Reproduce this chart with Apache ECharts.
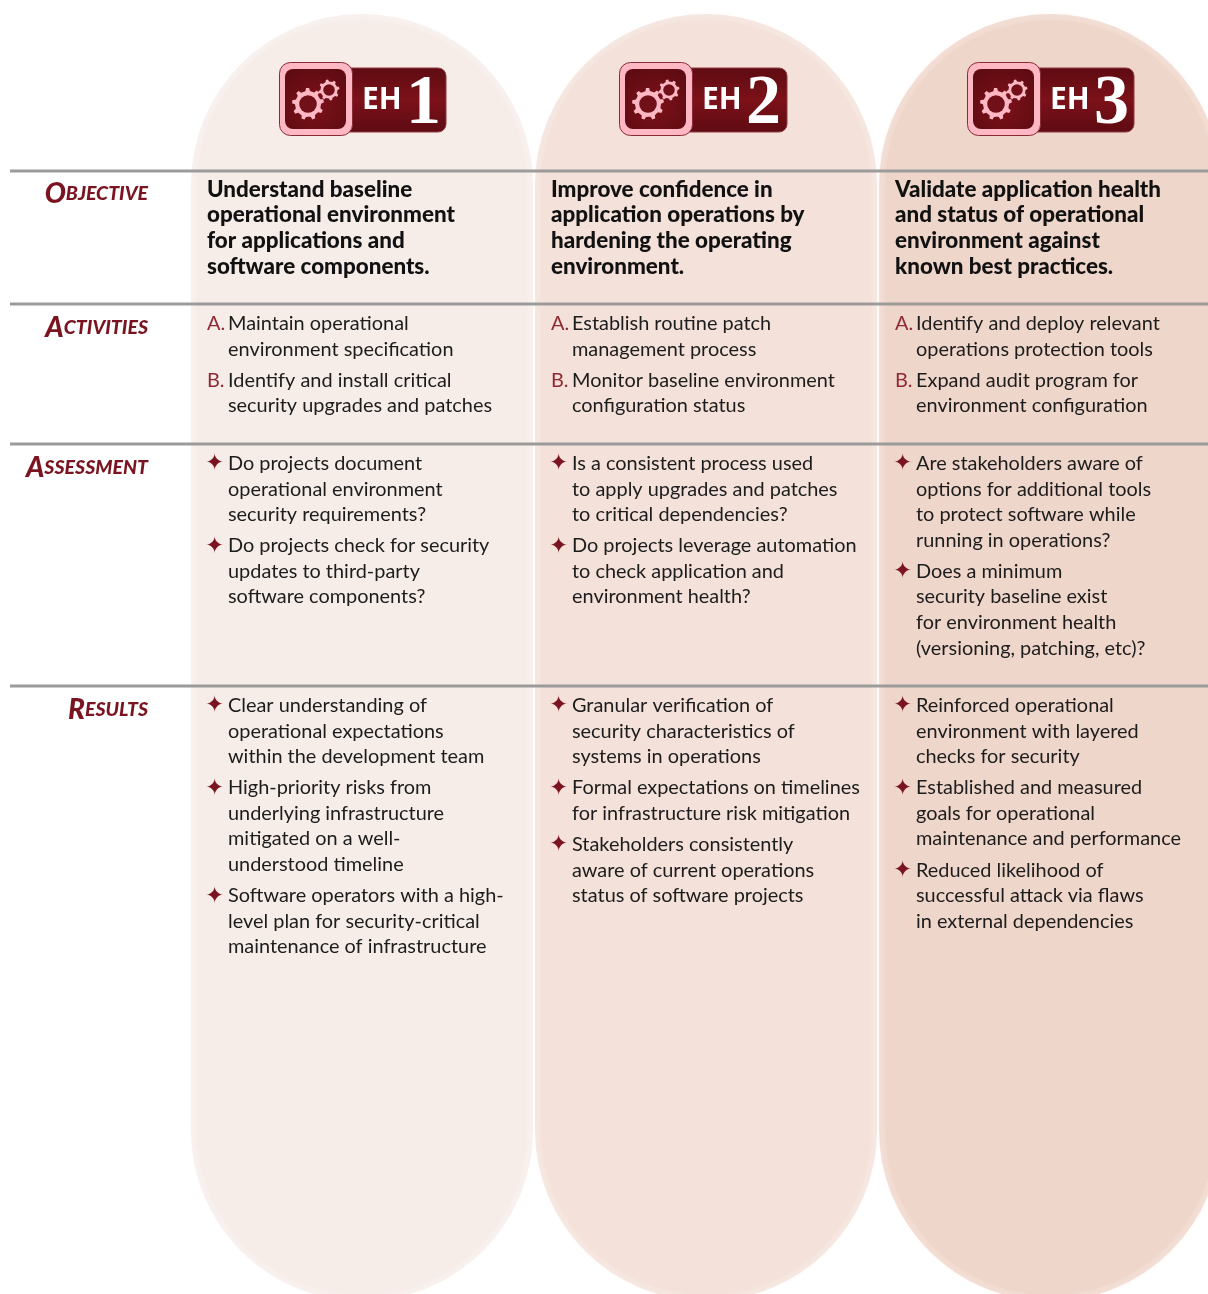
<!DOCTYPE html>
<html>
<head>
<meta charset="utf-8">
<title>Environment Hardening</title>
<style>
html, body { margin: 0; padding: 0; background: #fff; }
#main { width: 1208px; height: 1294px; }
</style>
<script src="https://cdn.jsdelivr.net/npm/echarts@6/dist/echarts.min.js"></script>
</head>
<body>
<div id="main"></div>
<script>
var badges = ['1', '2', '3'];
var rowNames = [['O', 'BJECTIVE'], ['A', 'CTIVITIES'], ['A', 'SSESSMENT'], ['R', 'ESULTS']];

var objectives = [
  ['Understand baseline', 'operational environment', 'for applications and', 'software components.'],
  ['Improve confidence in', 'application operations by', 'hardening the operating', 'environment.'],
  ['Validate application health', 'and status of operational', 'environment against', 'known best practices.']
];
var activities = [
  [['Maintain operational', 'environment specification'], ['Identify and install critical', 'security upgrades and patches']],
  [['Establish routine patch', 'management process'], ['Monitor baseline environment', 'configuration status']],
  [['Identify and deploy relevant', 'operations protection tools'], ['Expand audit program for', 'environment configuration']]
];
var assessment = [
  [['Do projects document', 'operational environment', 'security requirements?'], ['Do projects check for security', 'updates to third-party', 'software components?']],
  [['Is a consistent process used', 'to apply upgrades and patches', 'to critical dependencies?'], ['Do projects leverage automation', 'to check application and', 'environment health?']],
  [['Are stakeholders aware of', 'options for additional tools', 'to protect software while', 'running in operations?'], ['Does a minimum', 'security baseline exist', 'for environment health', '(versioning, patching, etc)?']]
];
var results = [
  [['Clear understanding of', 'operational expectations', 'within the development team'], ['High-priority risks from', 'underlying infrastructure', 'mitigated on a well-', 'understood timeline'], ['Software operators with a high-', 'level plan for security-critical', 'maintenance of infrastructure']],
  [['Granular verification of', 'security characteristics of', 'systems in operations'], ['Formal expectations on timelines', 'for infrastructure risk mitigation'], ['Stakeholders consistently', 'aware of current operations', 'status of software projects']],
  [['Reinforced operational', 'environment with layered', 'checks for security'], ['Established and measured', 'goals for operational', 'maintenance and performance'], ['Reduced likelihood of', 'successful attack via flaws', 'in external dependencies']]
];

var dark = '#7a1420';
var ink = '#1c1c1c';
var font = 'Lato';
var pillX = [191, 535, 879];
var pillFill = ['#f6ede9', '#f3e1da', '#efd6cb'];
var pillEdge = ['#f8f1ee', '#f6e8e2', '#f3dfd6'];
var textX = [207, 551, 895];
var badgeX = [279, 619, 967];
var barEnd = [446, 787, 1134];
var ruleY = [171, 304, 444, 686];
var rowTop = [189.5, 323.5, 463.5, 705.5];
var lineH = 25.6;
var itemGap = 5.5;

// gear outline as polygon points
function gearPoints(cx, cy, r, teeth) {
  var pts = [];
  var step = Math.PI * 2 / teeth;
  for (var i = 0; i < teeth; i++) {
    var a = i * step - 0.2;
    [[r * 0.8, a - step * 0.5], [r * 0.82, a - step * 0.25], [r, a - step * 0.14], [r, a + step * 0.14], [r * 0.82, a + step * 0.25]].forEach(function (p) {
      pts.push([cx + p[0] * Math.cos(p[1]), cy + p[0] * Math.sin(p[1])]);
    });
  }
  return pts;
}

function label(x, y, str, fill, weight, size) {
  return {
    type: 'text', z: 10, silent: true, x: x, y: y,
    style: { text: str, fill: fill || ink, font: (weight || 'normal') + ' ' + (size || 19.9) + 'px ' + font, verticalAlign: 'middle' }
  };
}

var els = [];

// pills: pale outer shape plus a blurred inner one for the soft edge
pillX.forEach(function (x, i) {
  els.push({
    type: 'rect', z: 1, silent: true,
    shape: { x: x, y: 14, width: 342, height: 1287, r: 171 },
    style: { fill: pillEdge[i] }
  });
  els.push({
    type: 'rect', z: 1, silent: true,
    shape: { x: x + 6, y: 20, width: 330, height: 1275, r: 165 },
    style: { fill: pillFill[i], shadowBlur: 10, shadowColor: pillFill[i] }
  });
});

// rules
ruleY.forEach(function (y) {
  els.push({ type: 'rect', z: 2, silent: true, shape: { x: 10, y: y - 1.5, width: 1198, height: 3 }, style: { fill: '#9b9b9b' } });
});

// row names, small caps built from two sizes
rowNames.forEach(function (n, r) {
  els.push({
    type: 'text', z: 10, silent: true, x: 148, y: rowTop[r] + 4,
    style: {
      text: '{a|' + n[0] + '}{b|' + n[1] + '}',
      align: 'right', verticalAlign: 'middle',
      rich: {
        a: { fontFamily: font, fontStyle: 'italic', fontWeight: 900, fontSize: 28, fill: dark },
        b: { fontFamily: font, fontStyle: 'italic', fontWeight: 900, fontSize: 19.5, fill: dark }
      }
    }
  });
});

// badges
badges.forEach(function (n, i) {
  var x = badgeX[i];
  var grad = new echarts.graphic.LinearGradient(0, 0, 0, 1, [
    { offset: 0, color: '#5e0b12' }, { offset: 0.5, color: '#7c1119' }, { offset: 1, color: '#5e0b12' }
  ]);
  var inner = new echarts.graphic.RadialGradient(0.5, 0.6, 0.7, [{ offset: 0, color: '#7d1119' }, { offset: 1, color: '#5e0b12' }]);
  els.push({ type: 'rect', z: 5, silent: true, shape: { x: x + 40, y: 68, width: barEnd[i] - x - 40, height: 64, r: 8 }, style: { fill: grad, stroke: '#8f3a42', lineWidth: 1 } });
  els.push({ type: 'rect', z: 6, silent: true, shape: { x: x + 0.5, y: 62.5, width: 73, height: 73, r: 11 }, style: { fill: '#fdb8c4', stroke: '#8a2a34', lineWidth: 1 } });
  els.push({ type: 'rect', z: 7, silent: true, shape: { x: x + 6, y: 69, width: 61, height: 60, r: 8 }, style: { fill: inner } });
  [[x + 29, 104, 16, 9], [x + 50, 90, 10.5, 8]].forEach(function (g) {
    els.push({ type: 'polygon', z: 8, silent: true, shape: { points: gearPoints(g[0], g[1], g[2], g[3]) }, style: { fill: '#fdb8c4' } });
    els.push({ type: 'circle', z: 8, silent: true, shape: { cx: g[0], cy: g[1], r: g[2] * 0.55 }, style: { fill: '#72101a' } });
  });
  els.push({ type: 'text', z: 9, silent: true, x: x + 83, y: 100, style: { text: 'EH', fill: '#fff', font: 'bold 30px "Open Sans"', verticalAlign: 'middle' } });
  els.push({ type: 'text', z: 9, silent: true, x: x + 127, y: 105, style: { text: n, fill: '#fff', font: 'bold 70px "Liberation Serif"', verticalAlign: 'middle' } });
});

// objective row
objectives.forEach(function (lines, c) {
  lines.forEach(function (s, j) {
    els.push(label(textX[c], rowTop[0] + j * lineH, s, '#111', 900, 22.4));
  });
});

// lettered and starred lists
function addItems(items, c, top, marks) {
  var y = top;
  items.forEach(function (item, k) {
    if (marks === 'letters') {
      els.push(label(textX[c], y, String.fromCharCode(65 + k) + '.', '#8f2a34'));
    } else {
      els.push({ type: 'text', z: 10, silent: true, x: textX[c] - 2, y: y + 1, style: { text: '\u2726', fill: dark, font: '23px "DejaVu Sans"', verticalAlign: 'middle' } });
    }
    item.forEach(function (s) {
      els.push(label(textX[c] + 21, y, s));
      y += lineH;
    });
    y += itemGap;
  });
}
[0, 1, 2].forEach(function (c) {
  addItems(activities[c], c, rowTop[1], 'letters');
  addItems(assessment[c], c, rowTop[2], 'stars');
  addItems(results[c], c, rowTop[3], 'stars');
});

var chart = echarts.init(document.getElementById('main'), null, { renderer: 'canvas' });
chart.setOption({ animation: false, backgroundColor: '#fff', graphic: { elements: els } });
</script>
</body>
</html>
